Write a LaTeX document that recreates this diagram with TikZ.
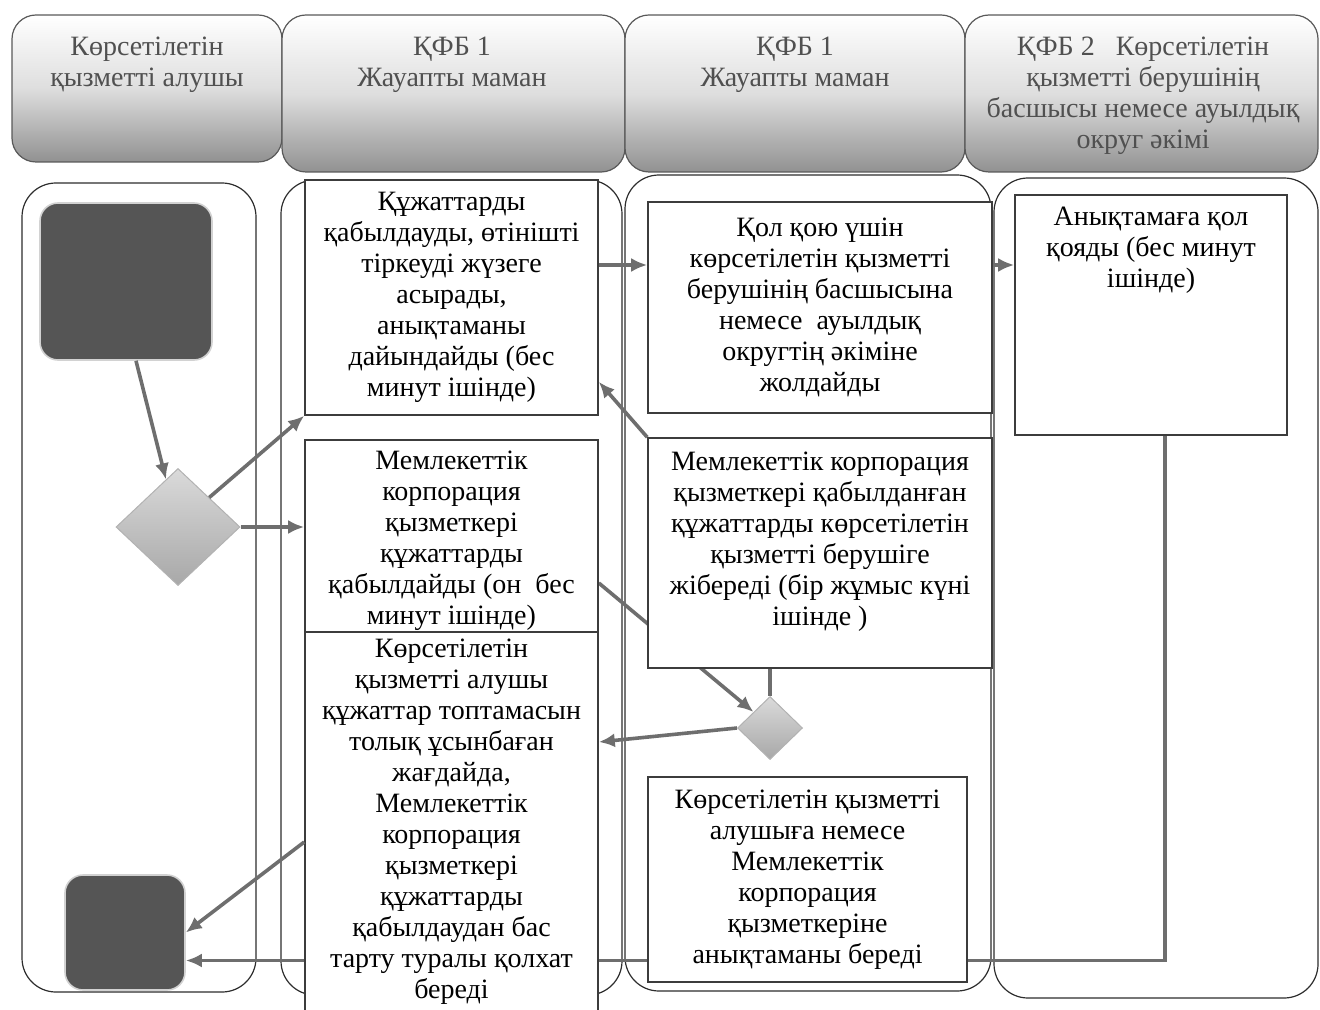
\documentclass[tikz,border=0pt]{standalone}
\usepackage{fontspec}
\setmainfont{Liberation Serif}
\usetikzlibrary{positioning,shapes.geometric,arrows.meta}

\definecolor{laneColor}{RGB}{45,45,45}
\definecolor{boxColor}{RGB}{60,60,60}
\definecolor{linkColor}{RGB}{110,110,110}
\definecolor{termColor}{RGB}{85,85,85}
\definecolor{headText}{RGB}{80,80,80}
\definecolor{headLow}{RGB}{145,145,145}
\definecolor{headMid}{RGB}{222,222,222}
\definecolor{diaLight}{RGB}{218,218,218}
\definecolor{diaDark}{RGB}{168,168,168}

\pgfdeclarelayer{lanes}
\pgfdeclarelayer{links}
\pgfsetlayers{lanes,links,main}

\tikzset{
  lane/.style={draw=laneColor, line width=0.6pt, rounded corners=17pt},
  head/.style={draw=gray!70!black, line width=0.6pt, rounded corners=12pt,
    top color=white, bottom color=headLow, middle color=headMid},
  headtext/.style={align=center, inner sep=0pt, text=headText, anchor=north},
  task/.style={rectangle, draw=boxColor, line width=0.8pt, fill=white,
    align=center, inner sep=2pt},
  term/.style={rectangle, rounded corners=9pt, fill=termColor, draw=gray!35,
    line width=0.8pt},
  gate/.style={diamond, inner sep=0pt, draw=gray!60, line width=0.5pt,
    top color=diaLight, bottom color=diaDark},
  link/.style={draw=linkColor, line width=1.8pt, -{Latex[length=8pt,width=7pt]}},
  tie/.style={draw=linkColor, line width=1.8pt},
}

\begin{document}
\begin{tikzpicture}[x=0.5pt,y=-0.5pt,font=\fontsize{14}{15.5}\selectfont]
  \useasboundingbox (0,0) rectangle (1320,1010);
  % Headers
  \draw[head] (12,15) rectangle (282,162);
  \draw[head] (282,15) rectangle (625,172);
  \draw[head] (625,15) rectangle (965,172);
  \draw[head] (965,15) rectangle (1318,172);
  \node[headtext] (h1) at (147,37) {Көрсетілетін\\қызметті алушы};
  \node[headtext] (h2) at (452,37) {ҚФБ 1\\Жауапты маман};
  \node[headtext] (h3) at (795,37) {ҚФБ 1\\Жауапты маман};
  \node[headtext] (h4) at (1143,37) {ҚФБ 2\ \ \ Көрсетілетін\\қызметті берушінің\\басшысы немесе ауылдық\\округ әкімі};
  % Lanes
  \begin{pgfonlayer}{lanes}
    \draw[lane] (22,183) rectangle (256,992);
    \draw[lane] (281,180) rectangle (622,995);
    \draw[lane] (625,175) rectangle (991,991);
    \draw[lane] (994,178) rectangle (1318,998);
  \end{pgfonlayer}
  % Steps
  \node[term, minimum width=86pt, minimum height=78.5pt] (start) at (126,281.5) {};
  \node[gate, minimum width=62pt, minimum height=58.5pt] (d1) at (178,527) {};
  \node[task, minimum width=146.5pt, minimum height=117.5pt] (b1) at (451.5,297.5)
    {Құжаттарды\\қабылдауды, өтінішті\\тіркеуді жүзеге\\асырады,\\анықтаманы\\дайындайды (бес\\минут ішінде)};
  \node[task, minimum width=146.5pt, minimum height=101pt] (b2) at (451.5,541)
    {Мемлекеттік\\корпорация\\қызметкері\\құжаттарды\\қабылдайды (он\ \ бес\\минут ішінде)};
  \node[task, minimum width=146.5pt, minimum height=190pt] (b3) at (451.5,822)
    {Көрсетілетін\\қызметті алушы\\құжаттар топтамасын\\толық ұсынбаған\\жағдайда,\\Мемлекеттік\\корпорация\\қызметкері\\құжаттарды\\қабылдаудан бас\\тарту туралы қолхат\\береді};
  \node[task, minimum width=172pt, minimum height=105.5pt] (b4) at (820,307.5)
    {Қол қою үшін\\көрсетілетін қызметті\\берушінің басшысына\\немесе\ \ ауылдық\\округтің әкіміне\\жолдайды};
  \node[task, minimum width=172pt, minimum height=115pt, text depth=14pt] (b5) at (820,553)
    {Мемлекеттік корпорация\\қызметкері қабылданған\\құжаттарды көрсетілетін\\қызметті берушіге\\жібереді (бір жұмыс күні\\ішінде )};
  \node[gate, minimum width=32.5pt, minimum height=31.5pt] (d2) at (770,728) {};
  \node[task, minimum width=159.5pt, minimum height=102.5pt] (b6) at (807.5,879.5)
    {Көрсетілетін қызметті\\алушыға немесе\\Мемлекеттік\\корпорация\\қызметкеріне\\анықтаманы береді};
  \node[task, minimum width=136pt, minimum height=120pt] (b7) at (1151,315) {};
  \node[headtext, text=black, below=6pt of b7.north] (b7t)
    {Анықтамаға қол\\қояды (бес минут\\ішінде)};
  \node[term, minimum width=60pt, minimum height=57.5pt] (fin) at (125,932.5) {};
  % Links
  \coordinate (r1) at (0,265);
  \coordinate (r3) at (0,742);
  \begin{pgfonlayer}{links}
    \draw[link] ([yshift=-21pt]b2.east) -- (d2.north west);
    \draw[link] ([xshift=7pt]b7.south) |- ([yshift=-14pt]fin.east);
  \end{pgfonlayer}
  \draw[link] ([xshift=5pt]start.south) -- (d1);
  \draw[link] (d1.north east) -- (b1.south west);
  \draw[link] (d1.east) -- (d1.east -| b2.west);
  \draw[link] (b1.east |- r1) -- (b4.west |- r1);
  \draw[link] (b4.east |- r1) -- (b7.west |- r1);
  \draw[link] (b5.north west) -- ([yshift=17pt]b1.south east);
  \draw[tie] (d2.north |- b5.south) -- (d2.north);
  \draw[link] (d2.west) -- (b3.east |- r3);
  \draw[link] ([yshift=-10pt]b3.west) -- (fin.east);
\end{tikzpicture}
\end{document}
